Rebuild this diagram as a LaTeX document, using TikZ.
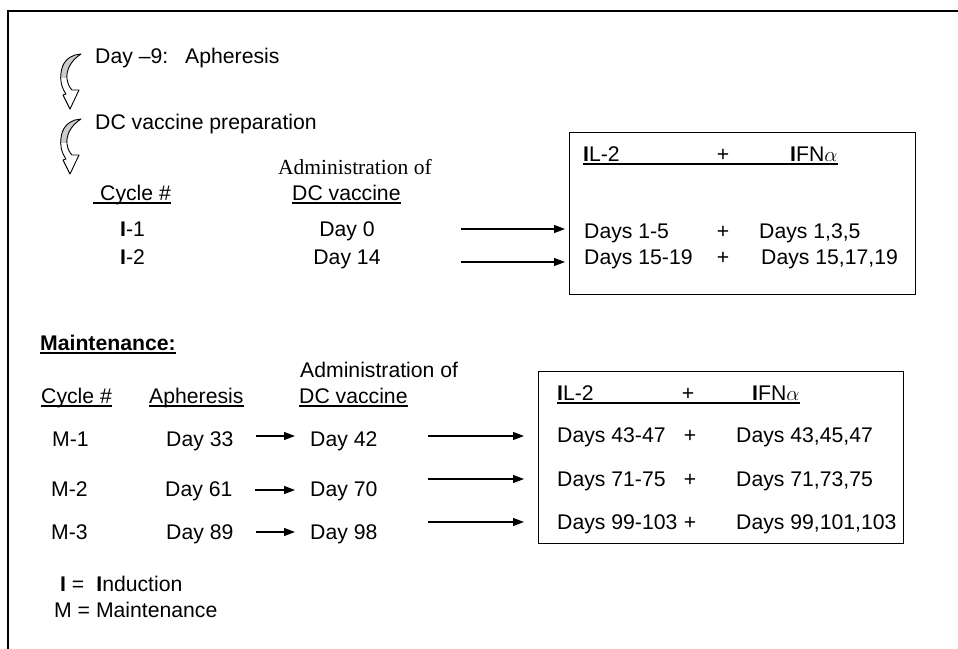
\documentclass[tikz,border=0pt]{standalone}
\usepackage{fontspec}
\setmainfont{Liberation Sans}
\newfontfamily\serifface{Liberation Serif}
\usetikzlibrary{arrows.meta}

% outline of the curved ribbon arrow (local units)
\newcommand\ribbonpath{(20,2) -- (26,1) .. controls (15,8) and (11,18) .. (12,26)
  .. controls (13,32) and (15,35) .. (17,37) -- (24,37) -- (15,56) -- (8,42) -- (11,41)
  .. controls (6,34) and (5,26) .. (6,20) .. controls (7,10) and (13,4) .. (20,2) -- cycle}

\begin{document}
\begin{tikzpicture}[x=1pt, y=-1pt,
    font=\fontsize{21.2}{25}\selectfont,
    lbl/.style={anchor=base west, inner sep=0pt},
    mid/.style={anchor=base, inner sep=0pt},
    ul/.style={line width=1.4pt},
    box/.style={draw, line width=1.2pt, anchor=north west, inner sep=0pt},
    arr/.style={-{Triangle[length=11pt,width=8pt]}, line width=1.1pt},
    curvarr/.pic={
      \fill[white] \ribbonpath;
      \begin{scope}
        \clip (0,0) rectangle (30,24);
        \fill[black!20] \ribbonpath;
      \end{scope}
      \draw[line width=0.9pt, line join=round] \ribbonpath;
    }]
    \useasboundingbox (0,0) rectangle (958,648);
    \draw[line width=1.5pt] (8,660) -- (8,11) -- (970,11);

    % induction
    \pic at (55,53) {curvarr};
    \pic at (55,118) {curvarr};
    \node[lbl] (day9) at (95,63) {Day --9:\hspace{17pt}Apheresis};
    \node[lbl] (prep) at (95,129) {DC vaccine preparation};
    \node[lbl, font=\serifface\fontsize{21.5}{24}\selectfont] (adm1) at (278,174) {Administration of};
    \node[lbl] (cyc1) at (100,200) {Cycle \#};
    \node[lbl] (dcv1) at (292,200) {DC vaccine};
    \draw[ul] ([xshift=-7pt,yshift=-3pt]cyc1.base west) -- ([yshift=-3pt]cyc1.base east);
    \draw[ul] ([yshift=-3pt]dcv1.base west) -- ([yshift=-3pt]dcv1.base east);
    \node[lbl] (i1) at (120,236) {\textbf{I}-1};
    \node[lbl] (i2) at (120,264) {\textbf{I}-2};
    \node[mid] (d0) at (347,236) {Day 0};
    \node[mid] (d14) at (347,264) {Day 14};

    \node[box, minimum width=346pt, minimum height=162pt] (box1) at (569,132) {};
    \node[lbl] (il1) at (583,161) {\textbf{I}L-2};
    \node[mid] (pl1) at (723,161) {+};
    \node[lbl] (ifn1) at (790,161) {\textbf{I}FN$\alpha$};
    \draw[ul] ([yshift=-3pt]il1.base west) -- ([yshift=-3pt]ifn1.base east);
    \node[lbl] (a1) at (584,238) {Days 1-5};
    \node[mid] (p1) at (723,238) {+};
    \node[lbl] (b1) at (759,238) {Days 1,3,5};
    \node[lbl] (a2) at (584,264) {Days 15-19};
    \node[mid] (p2) at (723,264) {+};
    \node[lbl] (b2) at (761,264) {Days 15,17,19};

    \coordinate (s1) at (461,229);
    \coordinate (s2) at (461,262);
    \draw[arr, shorten >=4pt] (s1) -- (s1 -| box1.west);
    \draw[arr, shorten >=4pt] (s2) -- (s2 -| box1.west);

    % maintenance
    \node[lbl] (mnt) at (40,350) {\textbf{Maintenance:}};
    \draw[ul] ([yshift=-3pt]mnt.base west) -- ([yshift=-3pt]mnt.base east);
    \node[lbl] (adm2) at (300,377) {Administration of};
    \node[lbl] (cyc2) at (41,403) {Cycle \#};
    \node[lbl] (aph) at (149,403) {Apheresis};
    \node[lbl] (dcv2) at (299,403) {DC vaccine};
    \draw[ul] ([yshift=-3pt]cyc2.base west) -- ([yshift=-3pt]cyc2.base east);
    \draw[ul] ([yshift=-3pt]aph.base west) -- ([yshift=-3pt]aph.base east);
    \draw[ul] ([yshift=-3pt]dcv2.base west) -- ([yshift=-3pt]dcv2.base east);

    \node[lbl] (m1) at (52,446) {M-1};
    \node[lbl] (m2) at (51,496) {M-2};
    \node[lbl] (m3) at (51,539) {M-3};
    \node[lbl] (ap1) at (166,446) {Day 33};
    \node[lbl] (ap2) at (165,496) {Day 61};
    \node[lbl] (ap3) at (166,539) {Day 89};
    \node[lbl] (dc1) at (310,446) {Day 42};
    \node[lbl] (dc2) at (310,496) {Day 70};
    \node[lbl] (dc3) at (310,539) {Day 98};
    \draw[arr, shorten <=22pt, shorten >=15pt] ([yshift=10pt]ap1.base east) -- ([yshift=10pt]dc1.base west);
    \draw[arr, shorten <=22pt, shorten >=15pt] ([yshift=6pt]ap2.base east) -- ([yshift=6pt]dc2.base west);
    \draw[arr, shorten <=22pt, shorten >=15pt] ([yshift=7pt]ap3.base east) -- ([yshift=7pt]dc3.base west);

    \node[box, minimum width=365pt, minimum height=172pt] (box2) at (538,371) {};
    \node[lbl] (il2) at (557,400) {\textbf{I}L-2};
    \node[mid] (pl2) at (688,400) {+};
    \node[lbl] (ifn2) at (752,400) {\textbf{I}FN$\alpha$};
    \draw[ul] ([yshift=-3pt]il2.base west) -- ([yshift=-3pt]ifn2.base east);
    \node[lbl] (c1) at (557,442) {Days 43-47};
    \node[mid] (q1) at (690,442) {+};
    \node[lbl] (e1) at (736,442) {Days 43,45,47};
    \node[lbl] (c2) at (557,486) {Days 71-75};
    \node[mid] (q2) at (690,486) {+};
    \node[lbl] (e2) at (736,486) {Days 71,73,75};
    \node[lbl] (c3) at (557,529) {Days 99-103};
    \node[mid] (q3) at (690,529) {+};
    \node[lbl] (e3) at (736,529) {Days 99,101,103};

    \coordinate (t1) at (428,436);
    \coordinate (t2) at (428,479);
    \coordinate (t3) at (428,522);
    \draw[arr, shorten >=14pt] (t1) -- (t1 -| box2.west);
    \draw[arr, shorten >=14pt] (t2) -- (t2 -| box2.west);
    \draw[arr, shorten >=14pt] (t3) -- (t3 -| box2.west);

    % key
    \node[lbl] (kI) at (60,591) {\textbf{I} =\hspace{12pt}\textbf{I}nduction};
    \node[lbl] (kM) at (54,617) {M = Maintenance};
\end{tikzpicture}
\end{document}
